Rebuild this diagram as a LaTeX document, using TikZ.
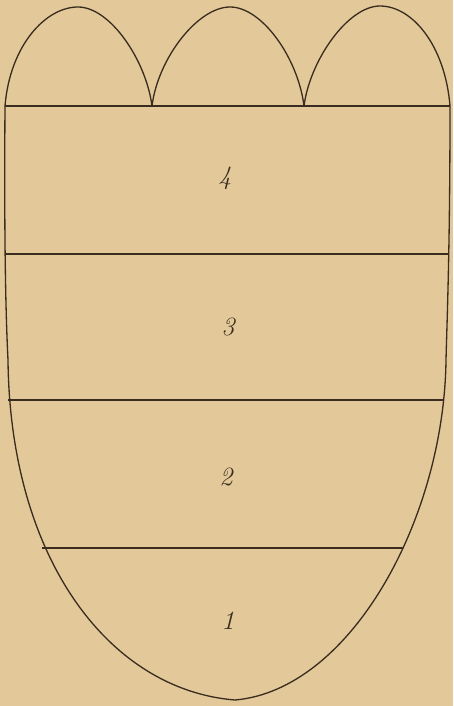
\documentclass[tikz,border=0pt]{standalone}
\begin{document}
\begin{tikzpicture}[x=0.02cm,y=-0.02cm,
  ink/.style={draw=inkc,line width=0.75pt,line join=round},
  lbl/.style={text=inkc,font=\fontsize{15}{15}\selectfont\itshape,inner sep=0pt}]
\definecolor{bgc}{HTML}{E3C99A}
\definecolor{inkc}{HTML}{3A2D1F}
\fill[bgc] (0,0) rectangle (453,706);
\useasboundingbox (0,0) rectangle (453,706);
% corners
\coordinate (tl) at (5,106);
\coordinate (c1) at (152,106);
\coordinate (c2) at (304,106);
\coordinate (tr) at (450,106);
\coordinate (lm) at (8,360);
\coordinate (rm) at (446,360);
\coordinate (bot) at (235,700);
% arches
\draw[ink] (tl) .. controls (10,45) and (46,7) .. (78,7)
  .. controls (110,7) and (146,60) .. (c1);
\draw[ink] (c1) .. controls (158,58) and (198,7) .. (230,7)
  .. controls (262,7) and (298,58) .. (c2);
\draw[ink] (c2) .. controls (310,60) and (348,6) .. (380,6)
  .. controls (412,6) and (445,45) .. (tr);
% body outline
\draw[ink] (tl) .. controls (4,250) and (6,320) .. (lm)
  .. controls (10,560) and (110,690) .. (bot);
\draw[ink] (tr) .. controls (450,250) and (447,320) .. (rm)
  .. controls (444,520) and (350,690) .. (bot);
% divisions
\coordinate (l3a) at (5,254); \coordinate (l3b) at (449,254);
\coordinate (l2a) at (8,400); \coordinate (l2b) at (444,400);
\coordinate (l1a) at (42,548); \coordinate (l1b) at (403,548);
\draw[ink] (tl) -- (tr);
\draw[ink] (l3a) -- (l3b);
\draw[ink] (l2a) -- (l2b);
\draw[ink] (l1a) -- (l1b);
% labels
\node[lbl] (n4) at (225,178) {4};
\node[lbl] (n3) at (228,327) {3};
\node[lbl] (n2) at (226,477) {2};
\node[lbl] (n1) at (228,621) {1};
\end{tikzpicture}
\end{document}
